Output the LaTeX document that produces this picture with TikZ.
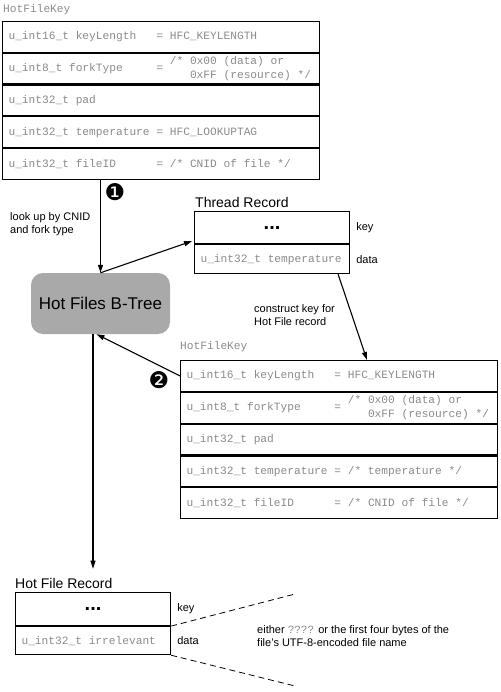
\documentclass[tikz,border=0pt]{standalone}
\usepackage{fontspec}
\setmainfont{Liberation Sans}
\newfontfamily\monof{Liberation Mono}
\newfontfamily\symf{DejaVu Sans}
\usetikzlibrary{arrows.meta,calc}
\definecolor{codegray}{HTML}{8A8A8A}
\definecolor{treegray}{HTML}{A9A9A9}
\newcommand\ms{\hspace*{0.6em}}
\newcommand\forkrow{\begin{tabular}{@{}l@{}l@{}}u\_int8\_t\ms forkType\ms\ms\ms\ms\ms=\ms&\begin{tabular}{@{}l@{}}/*\ms0x00\ms(data)\ms or\\\ms\ms\ms0xFF\ms(resource)\ms*/\end{tabular}\end{tabular}}
\tikzset{
  mono/.style={font=\monof\fontsize{11.2}{13.5}\selectfont, text=codegray},
  krow/.style={mono, draw=black, line width=1.1pt, anchor=north west, minimum height=30.7pt, text width=305pt, inner xsep=6pt, inner ysep=0pt, align=left},
  rrow/.style={mono, draw=black, line width=1.1pt, anchor=north west, text width=143pt, inner xsep=6pt, inner ysep=0pt, align=left},
  dotrow/.style={rrow, align=center, font=\fontsize{20}{20}\selectfont\bfseries, text=black},
  lbl/.style={font=\fontsize{11}{13.5}\selectfont, align=left, anchor=west, inner sep=0pt},
  rtitle/.style={font=\fontsize{14}{16}\selectfont, anchor=west, inner sep=0pt},
  btree/.style={fill=treegray, rounded corners=12pt, minimum width=139pt, minimum height=61pt, font=\fontsize{17}{19}\selectfont},
  badge/.style={font=\symf\fontsize{23}{23}\selectfont, inner sep=0pt},
  conn/.style={line width=1.1pt, -{Triangle[length=8pt,width=5pt]}},
  dashline/.style={line width=0.8pt, dash pattern=on 6pt off 4pt}
}
\begin{document}
\begin{tikzpicture}[x=1pt,y=-1pt]
\useasboundingbox (0,0) rectangle (500,692);
% top key
\node[mono, anchor=west, inner sep=0pt] (hk1) at (3,10) {HotFileKey};
\node[krow] (ka1) at (2,21) {u\_int16\_t\ms keyLength\ms\ms\ms=\ms HFC\_KEYLENGTH};
\node[krow] (ka2) at (ka1.south west) {\forkrow};
\node[krow] (ka3) at (ka2.south west) {u\_int32\_t\ms pad};
\node[krow] (ka4) at (ka3.south west) {u\_int32\_t\ms temperature\ms=\ms HFC\_LOOKUPTAG};
\node[krow] (ka5) at (ka4.south west) {u\_int32\_t\ms fileID\ms\ms\ms\ms\ms\ms=\ms/*\ms CNID\ms of\ms file\ms*/};
% thread record
\node[rtitle] (trt) at (195,202) {Thread Record};
\node[dotrow, minimum height=32pt] (tr1) at (194,211) {...};
\node[rrow, minimum height=29pt] (tr2) at (tr1.south west) {u\_int32\_t\ms temperature};
\node[lbl] (trk) at ($(tr1.east)+(6,0)$) {key};
\node[lbl] (trd) at ($(tr2.east)+(6,0)$) {data};
% b-tree
\node[btree] (bt) at (100.5,303.5) {Hot Files B-Tree};
\node[badge] (n1) at (115,192) {❶};
\node[lbl] (look) at (10,224) {look up by CNID\\and fork type};
\node[lbl] (cons) at (254,315) {construct key for\\Hot File record};
% second key
\node[mono, anchor=west, inner sep=0pt] (hk2) at (180,347) {HotFileKey};
\node[krow] (kb1) at (180,360) {u\_int16\_t\ms keyLength\ms\ms\ms=\ms HFC\_KEYLENGTH};
\node[krow] (kb2) at (kb1.south west) {\forkrow};
\node[krow] (kb3) at (kb2.south west) {u\_int32\_t\ms pad};
\node[krow] (kb4) at (kb3.south west) {u\_int32\_t\ms temperature\ms=\ms/*\ms temperature\ms*/};
\node[krow] (kb5) at (kb4.south west) {u\_int32\_t\ms fileID\ms\ms\ms\ms\ms\ms=\ms/*\ms CNID\ms of\ms file\ms*/};
\node[badge] (n2) at (159,380) {❷};
% hot file record
\node[rtitle] (hft) at (15,583) {Hot File Record};
\node[dotrow, minimum height=33pt] (hr1) at (15,592) {...};
\node[rrow, minimum height=28pt] (hr2) at (hr1.south west) {u\_int32\_t\ms irrelevant};
\node[lbl] (hrk) at ($(hr1.east)+(6,0)$) {key};
\node[lbl] (hrd) at ($(hr2.east)+(6,0)$) {data};
\node[lbl] (either) at (257,636) {either {\monof\color{codegray}????} or the first four bytes of the\\file’s UTF-8-encoded file name};
\coordinate (d1) at (295,594);
\coordinate (d2) at (295,686);
\draw[dashline] (hr1.south east) -- (d1);
\draw[dashline] (hr2.south east) -- (d2);
% connectors
\draw[conn] (ka5.south -| bt.north) -- (bt.north);
\draw[conn] (bt.north) -- ($(tr1.south west)+(-2,-3)$);
\draw[conn] ($(tr2.south east)+(-12,0)$) -- ($(kb1.north west)+(187,0)$);
\draw[conn] (kb1.west) -- ($(bt.south)+(-4,0)$);
\coordinate (hfin) at ($(hft.north west)+(78,-9)$);
\draw[conn] (bt.south -| hfin) -- (hfin);
\end{tikzpicture}
\end{document}
